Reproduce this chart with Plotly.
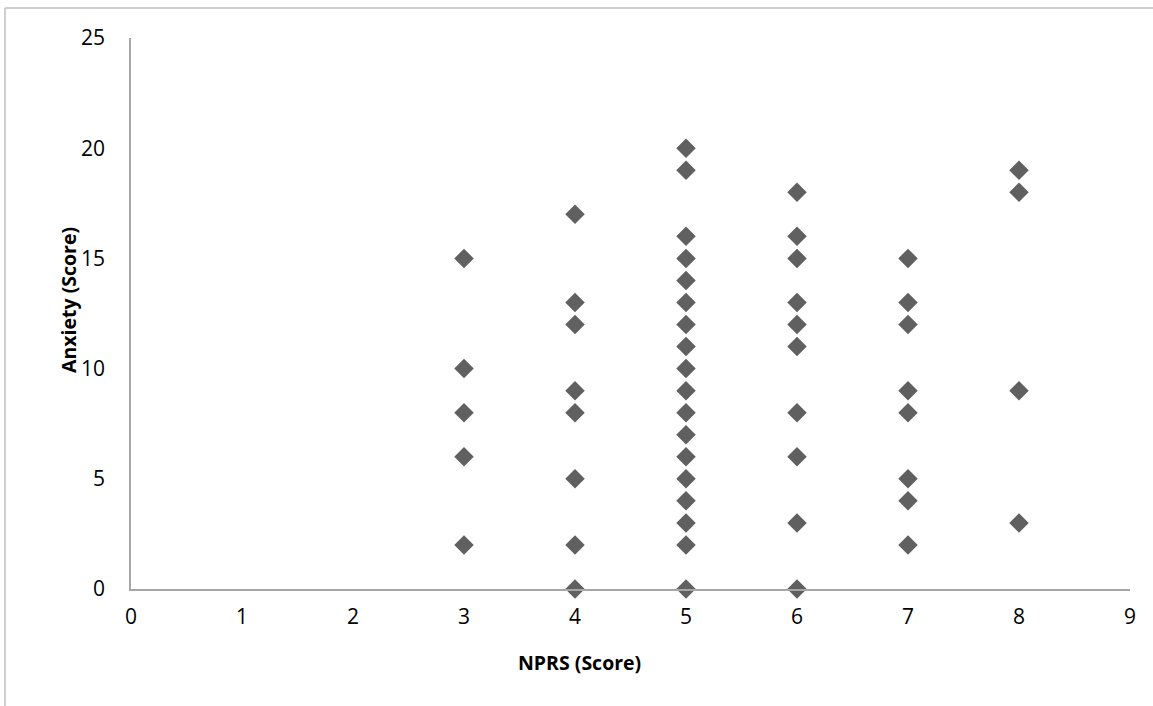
import plotly.graph_objects as go

nprs_3 = [15, 10, 8, 6, 2]
nprs_4 = [17, 13, 12, 9, 8, 5, 2, 0]
nprs_5 = [20, 19, 16, 15, 14, 13, 12, 11, 10, 9, 8, 7, 6, 5, 4, 3, 2, 0]
nprs_6 = [18, 16, 15, 13, 12, 11, 8, 6, 3, 0]
nprs_7 = [15, 13, 12, 9, 8, 5, 4, 2]
nprs_8 = [19, 18, 9, 3]

groups = {3: nprs_3, 4: nprs_4, 5: nprs_5, 6: nprs_6, 7: nprs_7, 8: nprs_8}
xs, ys = [], []
for k, vals in groups.items():
    xs += [k] * len(vals)
    ys += vals

x_ticks = list(range(0, 10))
y_ticks = [0, 5, 10, 15, 20, 25]

L, R, T, B = 131, 23, 38, 117
W, H = 1153, 706
pw, ph = W - L - R, H - T - B

def px(x):
    return (x - L) / pw

def py(y):
    return (H - B - y) / ph

FAM = "Open Sans, Liberation Sans, sans-serif"

fig = go.Figure()
fig.add_trace(go.Scatter(
    x=xs, y=ys, mode="markers",
    marker=dict(symbol="diamond", size=15, color="#606060", line=dict(width=0)),
    cliponaxis=False, showlegend=False, hoverinfo="x+y",
))

fig.update_layout(
    width=W, height=H,
    margin=dict(l=L, r=R, t=T, b=B, pad=0),
    paper_bgcolor="white", plot_bgcolor="white",
    font=dict(family=FAM, size=21, color="#000000"),
    xaxis=dict(range=[0, 9], tickvals=x_ticks, showgrid=False, zeroline=False,
               showline=True, linecolor="#a6a6a6", linewidth=1.5, ticks="",
               ticklabelstandoff=8, fixedrange=True),
    yaxis=dict(range=[0, 25], tickvals=y_ticks, showgrid=False, zeroline=False,
               showline=True, linecolor="#a6a6a6", linewidth=1.5, ticks="",
               ticklabelstandoff=20, fixedrange=True),
    annotations=[
        dict(text="<b>NPRS (Score)</b>", x=px(579), y=py(662), xref="paper", yref="paper",
             showarrow=False, xanchor="center", yanchor="middle",
             font=dict(family=FAM, size=19.5, color="#000000")),
        dict(text="<b>Anxiety (Score)</b>", x=px(68), y=py(300), xref="paper", yref="paper",
             showarrow=False, xanchor="center", yanchor="middle", textangle=-90,
             font=dict(family=FAM, size=19.5, color="#000000")),
    ],
    shapes=[
        dict(type="line", xref="paper", yref="paper", x0=px(5), x1=px(5), y0=py(8), y1=py(706),
             line=dict(color="#bfbfbf", width=1.5)),
        dict(type="line", xref="paper", yref="paper", x0=px(5), x1=px(1153), y0=py(8), y1=py(8),
             line=dict(color="#bfbfbf", width=1.5)),
    ],
)

fig.write_html("out.html")
